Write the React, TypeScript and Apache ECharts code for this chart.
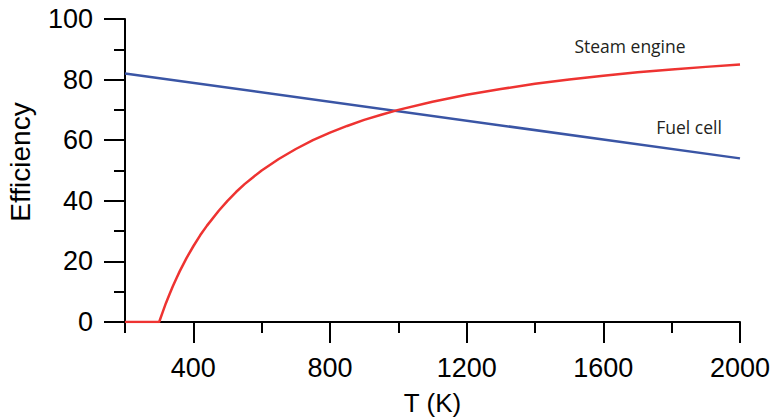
import React, { useEffect, useRef } from "react";
import * as echarts from "echarts";

const steamT = [200, 300, 310, 320, 330, 340, 350, 360, 380, 400, 420, 440, 475, 500, 525, 550, 575, 600, 650, 700, 750, 800, 850, 900, 950, 1000, 1100, 1200, 1300, 1400, 1500, 1600, 1700, 1800, 1900, 2000];
const steamEff = [0, 0, 3.2, 6.3, 9.1, 11.8, 14.3, 16.7, 21.1, 25, 28.6, 31.8, 36.8, 40, 42.9, 45.5, 47.8, 50, 53.8, 57.1, 60, 62.5, 64.7, 66.7, 68.4, 70, 72.7, 75, 76.9, 78.6, 80, 81.3, 82.4, 83.3, 84.2, 85];
const fuelT = [200, 2000];
const fuelEff = [82, 54];
const xMajorTicks = [400, 800, 1200, 1600, 2000];
const yName = "Efficiency";
const xName = "T (K)";
const steamLabel = "Steam engine";
const fuelLabel = "Fuel cell";

export default function App() {
  const ref = useRef<HTMLDivElement>(null);
  useEffect(() => {
    if (!ref.current) return;
    const chart = echarts.init(ref.current, undefined, { renderer: "svg" });
    const font = "Liberation Sans, Arial, sans-serif";
    const grid = { left: 125, right: 34, top: 19, bottom: 96, containLabel: false, outerBoundsMode: "none" };
    chart.setOption({
      animation: false,
      backgroundColor: "#ffffff",
      grid: [grid, { ...grid }],
      xAxis: [
        {
          type: "value",
          gridIndex: 0,
          min: 200,
          max: 2000,
          interval: 200,
          splitLine: { show: false },
          axisLine: { show: true, onZero: false, lineStyle: { color: "#000", width: 2 } },
          axisTick: { show: true, inside: false, length: 11, lineStyle: { color: "#000", width: 2 } },
          axisLabel: {
            margin: 32,
            fontSize: 27,
            color: "#000",
            fontFamily: font,
            formatter: (v: number) => (v % 400 === 0 ? String(v) : ""),
          },
          name: xName,
          nameLocation: "middle",
          nameGap: 67,
          nameTextStyle: { fontSize: 26, color: "#000", fontFamily: font, lineHeight: 28 },
        },
        {
          type: "value",
          gridIndex: 1,
          min: 200,
          max: 2000,
          interval: 200,
          splitLine: { show: false },
          axisLine: { show: false },
          axisTick: { show: true, inside: false, length: 21, customValues: xMajorTicks, lineStyle: { color: "#000", width: 2 } },
          axisLabel: { show: false },
        },
      ],
      yAxis: [
        {
          type: "value",
          gridIndex: 0,
          min: 0,
          max: 100,
          interval: 20,
          splitLine: { show: false },
          axisLine: { show: true, onZero: false, lineStyle: { color: "#000", width: 2 } },
          axisTick: { show: true, inside: false, length: 21, lineStyle: { color: "#000", width: 2 } },
          minorTick: { show: true, splitNumber: 2, length: 11, lineStyle: { color: "#000", width: 2 } },
          minorSplitLine: { show: false },
          axisLabel: { margin: 32, fontSize: 27, color: "#000", fontFamily: font },
        },
        {
          type: "value",
          gridIndex: 1,
          min: 0,
          max: 100,
          show: false,
        },
      ],
      graphic: [
        {
          type: "text",
          x: 20,
          y: 162,
          rotation: Math.PI / 2,
          style: { text: yName, fontSize: 28, fill: "#000", fontFamily: font, align: "center", verticalAlign: "middle" },
        },
        {
          type: "text",
          x: 630,
          y: 46,
          style: { text: steamLabel, fontSize: 17.5, fill: "#231f20", fontFamily: "Open Sans, sans-serif", align: "center", verticalAlign: "middle" },
        },
        {
          type: "text",
          x: 689,
          y: 127,
          style: { text: fuelLabel, fontSize: 17.5, fill: "#231f20", fontFamily: "Open Sans, sans-serif", align: "center", verticalAlign: "middle" },
        },
      ],
      series: [
        {
          name: fuelLabel,
          type: "line",
          xAxisIndex: 0,
          yAxisIndex: 0,
          data: fuelT.map((t, i) => [t, fuelEff[i]]),
          showSymbol: false,
          lineStyle: { color: "#3a55a5", width: 2.5 },
          z: 3,
        },
        {
          name: steamLabel,
          type: "line",
          xAxisIndex: 0,
          yAxisIndex: 0,
          data: steamT.map((t, i) => [t, steamEff[i]]),
          showSymbol: false,
          smooth: false,
          lineStyle: { color: "#ee3331", width: 2.5 },
          z: 4,
        },
      ],
    });
    return () => chart.dispose();
  }, []);
  return <div ref={ref} style={{ width: 774, height: 418, position: "absolute", left: 0, top: 0 }} />;
}
